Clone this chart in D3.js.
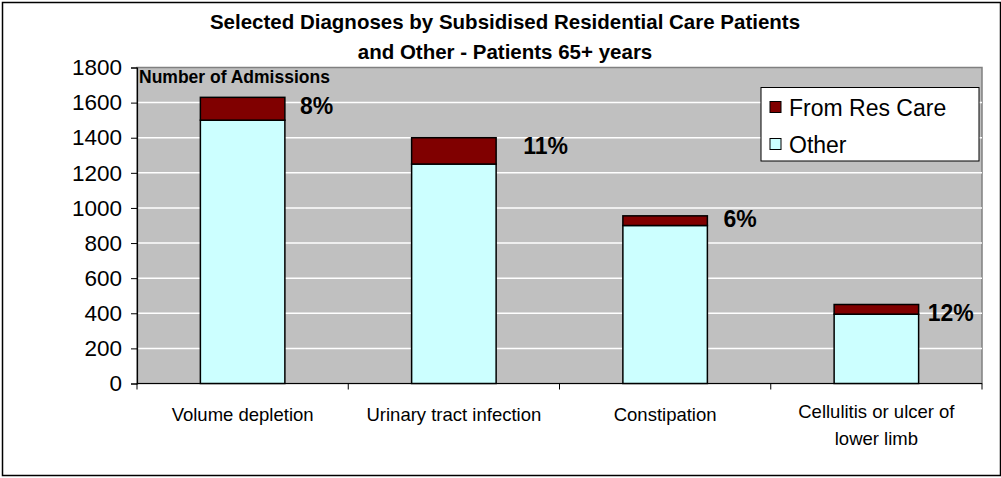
<!DOCTYPE html>
<html>
<head>
<meta charset="utf-8">
<script src="https://cdn.jsdelivr.net/npm/d3@7"></script>
<style>
  body { margin: 0; background: #fff; }
  text { font-family: Arial, "Liberation Sans", sans-serif; fill: #000; }
</style>
</head>
<body>
<div id="chart"></div>
<script>
// data
var categories = ["Volume depletion", "Urinary tract infection", "Constipation", "Cellulitis or ulcer of|lower limb"];
var otherVals = [1500, 1250, 900, 395];
var resCareVals = [130, 150, 55, 55];
var pctLabels = ["8%", "11%", "6%", "12%"];
var yTicks = [0, 200, 400, 600, 800, 1000, 1200, 1400, 1600, 1800];
var seriesNames = ["From Res Care", "Other"];
var seriesColors = ["#800000", "#ccffff"];

var W = 1001, H = 478;
var plot = {left: 137, right: 982, top: 67.5, bottom: 383.5};

var svg = d3.select("#chart").append("svg")
  .attr("width", W).attr("height", H);

// outer frame
svg.append("rect")
  .attr("x", 2.5).attr("y", 2.5).attr("width", W - 3).attr("height", H - 5)
  .attr("fill", "#fff").attr("stroke", "#000").attr("stroke-width", 1.5);

var x = d3.scaleBand().domain(categories).range([plot.left, plot.right]).paddingInner(0).paddingOuter(0);
var y = d3.scaleLinear().domain([0, 1800]).range([plot.bottom, plot.top]);
var barW = x.bandwidth() * 0.4;

// plot area
svg.append("rect")
  .attr("x", plot.left).attr("y", plot.top)
  .attr("width", plot.right - plot.left).attr("height", plot.bottom - plot.top)
  .attr("fill", "#c0c0c0").attr("stroke", "#808080").attr("stroke-width", 1.5);

// gridlines
svg.append("g").selectAll("line")
  .data(yTicks.filter(function(d) { return d > 0 && d < 1800; }))
  .enter().append("line")
  .attr("x1", plot.left).attr("x2", plot.right)
  .attr("y1", function(d) { return y(d); }).attr("y2", function(d) { return y(d); })
  .attr("stroke", "#fff").attr("stroke-width", 1.5);

// y axis
var yAxis = svg.append("g")
  .attr("transform", "translate(" + plot.left + ",0)")
  .call(d3.axisLeft(y).tickValues(yTicks).tickFormat(d3.format("d")).tickSize(6).tickPadding(9));
yAxis.select(".domain").attr("stroke", "#000").attr("stroke-width", 1.2);
yAxis.selectAll(".tick line").attr("stroke", "#000");
yAxis.selectAll("text").style("font-size", "22.5px").attr("fill", "#000");

// x axis
var xAxisG = svg.append("g").attr("transform", "translate(0," + plot.bottom + ")");
xAxisG.append("line").attr("x1", plot.left).attr("x2", plot.right)
  .attr("stroke", "#000").attr("stroke-width", 1.2);
xAxisG.selectAll(".xt")
  .data(d3.range(categories.length + 1))
  .enter().append("line")
  .attr("x1", function(i) { return plot.left + i * x.step(); })
  .attr("x2", function(i) { return plot.left + i * x.step(); })
  .attr("y1", 0).attr("y2", 6)
  .attr("stroke", "#000");
xAxisG.selectAll(".xl")
  .data(categories)
  .enter().append("text")
  .attr("text-anchor", "middle")
  .attr("x", function(d) { return x(d) + x.bandwidth() / 2; })
  .attr("y", function(d) { return d.indexOf("|") >= 0 ? 34 : 37; })
  .style("font-size", "18.5px")
  .each(function(d) {
    var lines = d.split("|");
    var t = d3.select(this);
    lines.forEach(function(l, i) {
      t.append("tspan").attr("x", x(d) + x.bandwidth() / 2).attr("dy", i === 0 ? 0 : 27).text(l);
    });
  });

// stacked bars
var stackData = categories.map(function(c, i) {
  return {cat: c, other: otherVals[i], res: resCareVals[i]};
});
var bars = svg.append("g");
bars.selectAll(".other")
  .data(stackData).enter().append("rect")
  .attr("x", function(d) { return x(d.cat) + (x.bandwidth() - barW) / 2; })
  .attr("y", function(d) { return y(d.other); })
  .attr("width", barW)
  .attr("height", function(d) { return y(0) - y(d.other); })
  .attr("fill", seriesColors[1]).attr("stroke", "#000").attr("stroke-width", 1.5);
bars.selectAll(".res")
  .data(stackData).enter().append("rect")
  .attr("x", function(d) { return x(d.cat) + (x.bandwidth() - barW) / 2; })
  .attr("y", function(d) { return y(d.other + d.res); })
  .attr("width", barW)
  .attr("height", function(d) { return y(d.other) - y(d.other + d.res); })
  .attr("fill", seriesColors[0]).attr("stroke", "#000").attr("stroke-width", 1.5);

// percent labels (offsets as placed in original)
var labelDx = [15, 27, 16, 9];
var labelDy = [17, 16, 11, 16];
svg.append("g").selectAll("text")
  .data(stackData).enter().append("text")
  .attr("x", function(d, i) { return x(d.cat) + (x.bandwidth() + barW) / 2 + labelDx[i]; })
  .attr("y", function(d, i) { return y(d.other + d.res) + labelDy[i]; })
  .style("font-size", "23px").style("font-weight", "bold")
  .text(function(d, i) { return pctLabels[i]; });

// axis title inside plot
svg.append("text")
  .attr("x", 139).attr("y", 83)
  .style("font-size", "17.5px").style("font-weight", "bold")
  .text("Number of Admissions");

// title
var title = svg.append("text").attr("text-anchor", "middle")
  .style("font-size", "20.5px").style("font-weight", "bold");
title.append("tspan").attr("x", 505).attr("y", 29).text("Selected Diagnoses by Subsidised Residential Care Patients");
title.append("tspan").attr("x", 505).attr("y", 58.5).text("and Other - Patients 65+ years");

// legend
var lg = svg.append("g").attr("transform", "translate(761,87.5)");
lg.append("rect").attr("width", 218).attr("height", 73.5)
  .attr("fill", "#fff").attr("stroke", "#000").attr("stroke-width", 1);
seriesNames.forEach(function(n, i) {
  lg.append("rect").attr("x", 9).attr("y", 14 + i * 37).attr("width", 11).attr("height", 11)
    .attr("fill", seriesColors[i]).attr("stroke", "#000").attr("stroke-width", 1);
  lg.append("text").attr("x", 28).attr("y", 28 + i * 37)
    .style("font-size", "23px").text(n);
});
</script>
</body>
</html>
